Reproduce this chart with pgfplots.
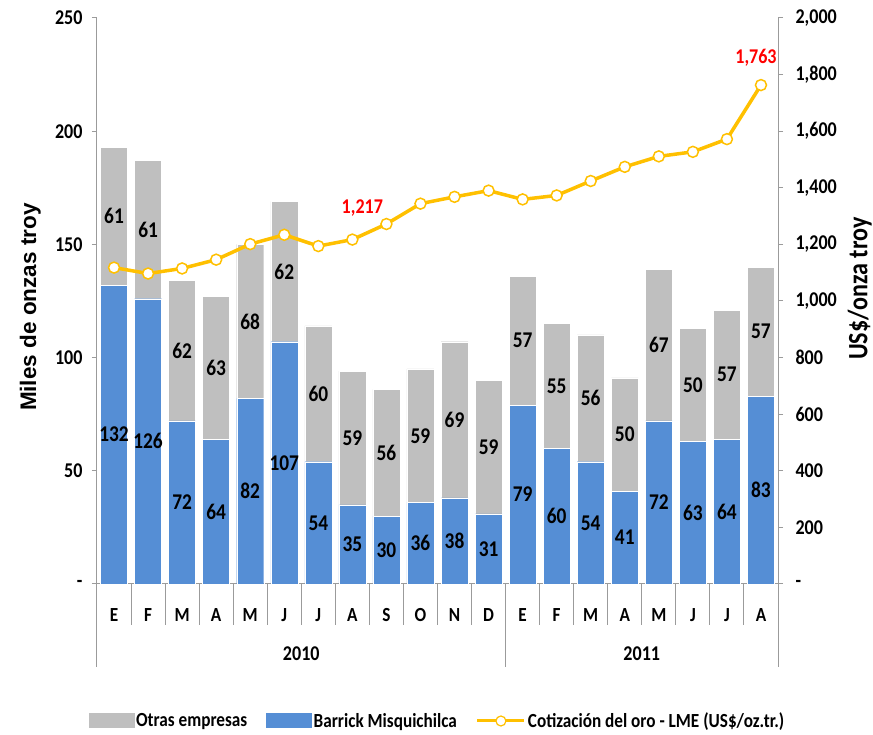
\documentclass[border=0pt]{standalone}
\usepackage{pgfplots}
\pgfplotsset{compat=1.18}
\usepackage{pgfplotstable}
\usepackage{fontspec}
\setmainfont{Carlito}[FakeStretch=0.86]
\newfontfamily\arialfont{Liberation Sans}

\definecolor{barblue}{RGB}{85,142,213}
\definecolor{bargray}{RGB}{191,191,191}
\definecolor{gold}{RGB}{255,192,0}
\definecolor{axisgray}{RGB}{155,155,155}

% x: month index, b: Barrick Misquichilca, g: otras empresas, p: cotizacion oro
\pgfplotstableread{
x b g p
0 132 61 1118
1 126 61 1097
2 72 62 1115
3 64 63 1146
4 82 68 1201
5 107 62 1234
6 54 60 1194
7 35 59 1217
8 30 56 1272
9 36 59 1344
10 38 69 1368
11 31 59 1390
12 79 57 1359
13 60 55 1373
14 54 56 1424
15 41 50 1474
16 72 67 1511
17 63 50 1527
18 64 57 1572
19 83 57 1763
}\oro

\tikzset{
  lbl/.style={font=\fontsize{21}{23}\selectfont\bfseries},
  barlbl/.style={font=\fontsize{22.5}{24}\selectfont\bfseries},
}
\pgfplotsset{
  base/.style={at={(0,0)}, anchor=south west, scale only axis,
    width=681pt, height=566pt, xmin=-0.5, xmax=19.5, clip=false,
    /pgf/number format/assume math mode=true},
  goldleg/.style={legend image code/.code={
    \draw[gold, line width=3pt] (0pt,0pt) -- (47pt,0pt);
    \draw[gold, fill=white, line width=1.2pt] (23.5pt,0pt) circle (5pt);}},
  blueleg/.style={legend image code/.code={\fill[barblue] (0pt,-6pt) rectangle (45pt,8pt);}},
  grayleg/.style={legend image code/.code={\fill[bargray] (0pt,-6pt) rectangle (45pt,8pt);}},
}

\begin{document}
\begin{tikzpicture}
\useasboundingbox (-97pt,-151pt) rectangle (776pt,584pt);

% barras apiladas (eje izquierdo)
\begin{axis}[base, ybar stacked, bar width=27pt, ymin=0, ymax=250,
  axis x line*=bottom, axis y line*=left,
  axis line style={draw=axisgray, line width=1pt},
  ytick={0,50,...,250}, yticklabels={-,50,100,150,200,250},
  xtick={0,...,19}, xticklabels={E,F,M,A,M,J,J,A,S,O,N,D,E,F,M,A,M,J,J,A},
  tick label style={lbl}, xtick style={draw=none},
  ytick style={draw=axisgray, line width=1pt}, major tick length=5pt, tick align=outside,
  xticklabel style={anchor=center, yshift=-26pt, font=\fontsize{20}{22}\selectfont\bfseries},
  yticklabel style={xshift=-6pt},
  every axis y label/.style={at={(axis description cs:-0.098,0.489)}, anchor=center, rotate=90,
    font=\arialfont\bfseries\fontsize{22.5}{24}\selectfont},
  ylabel={Miles de onzas troy},
  legend columns=3, reverse legend,
  legend style={at={(axis description cs:0.5,0)}, anchor=center, yshift=-137pt,
    draw=none, fill=none, font=\fontsize{20}{22}\selectfont\bfseries,
    /tikz/every even column/.append style={column sep=17pt}},
]
\addlegendimage{goldleg}
\addlegendentry{Cotización del oro - LME (US\$/oz.tr.)}
\addplot[fill=barblue, draw=white, line width=0.4pt, blueleg]
  table[x=x, y=b]{\oro};
\addlegendentry{Barrick Misquichilca}
\addplot[fill=bargray, draw=white, line width=0.4pt, grayleg]
  table[x=x, y=g]{\oro};
\addlegendentry{Otras empresas}

\pgfplotsinvokeforeach{-0.5,0.5,...,19.5}{\draw[axisgray, line width=1pt] (axis cs:#1,0) -- ++(0pt,-41pt);}
\pgfplotsinvokeforeach{-0.5,11.5,19.5}{\draw[axisgray, line width=1pt] (axis cs:#1,0) -- ++(0pt,-83pt);}
\node[lbl, yshift=-70pt] at (axis cs:5.5,0) {2010};
\node[lbl, yshift=-70pt] at (axis cs:15.5,0) {2011};
\end{axis}

% etiquetas de las barras
\begin{axis}[base, hide axis, ymin=0, ymax=250]
\addplot[draw=none, nodes near coords, point meta=explicit,
  every node near coord/.append style={barlbl, anchor=center, text=black}]
  table[x=x, y expr=\thisrow{b}/2, meta=b]{\oro};
\addplot[draw=none, nodes near coords, point meta=explicit,
  every node near coord/.append style={barlbl, anchor=center, text=black}]
  table[x=x, y expr=\thisrow{b}+\thisrow{g}/2, meta=g]{\oro};
\end{axis}

% cotizacion del oro (eje derecho)
\begin{axis}[base, ymin=0, ymax=2000,
  axis x line=none, axis y line*=right,
  axis line style={draw=axisgray, line width=1pt},
  ytick={0,200,...,2000},
  yticklabels={-,200,400,600,800,{1,000},{1,200},{1,400},{1,600},{1,800},{2,000}},
  tick label style={lbl}, yticklabel style={xshift=9pt},
  ytick style={draw=axisgray, line width=1pt}, major tick length=5pt, tick align=outside,
  every axis y label/.style={at={(axis description cs:1.120,0.522)}, anchor=center, rotate=90,
    font=\bfseries\fontsize{28}{30}\selectfont},
  ylabel={US\$/onza troy},
]
\addplot[gold, line width=3.5pt, mark=*, mark size=5.5pt,
  mark options={fill=white, draw=gold, line width=1.5pt}]
  table[x=x, y=p]{\oro};
\addplot[draw=none, nodes near coords, point meta=y, /pgf/number format/1000 sep={,},
  every node near coord/.append style={lbl, text=red, anchor=south, yshift=20pt, xshift=10pt}]
  coordinates {(7,1217)};
\addplot[draw=none, nodes near coords, point meta=y, /pgf/number format/1000 sep={,},
  every node near coord/.append style={lbl, text=red, anchor=south, yshift=15pt, xshift=-5pt}]
  coordinates {(19,1763)};
\end{axis}
\end{tikzpicture}
\end{document}
